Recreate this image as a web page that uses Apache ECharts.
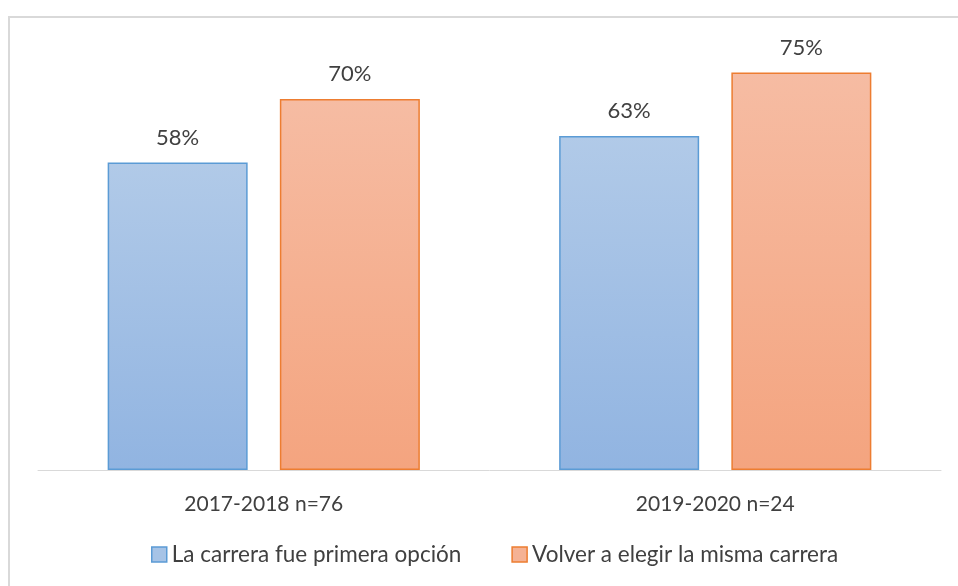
<!DOCTYPE html>
<html>
<head>
<meta charset="utf-8">
<script src="https://cdn.jsdelivr.net/npm/echarts@6/dist/echarts.min.js"></script>
<style>
  html, body { margin: 0; padding: 0; background: #fff; }
  #chart { width: 958px; height: 586px; }
</style>
</head>
<body>
<div id="chart"></div>
<script>
  var categories = ['2017-2018 n=76', '2019-2020 n=24'];
  var seriesNames = ['La carrera fue primera opción', 'Volver a elegir la misma carrera'];
  var primeraOpcion = [58, 63];
  var volverElegir = [70, 75];

  var font = 'Lato, "Open Sans", sans-serif';

  function grad(top, bottom) {
    return new echarts.graphic.LinearGradient(0, 0, 0, 1, [
      { offset: 0, color: top },
      { offset: 1, color: bottom }
    ]);
  }

  var chart = echarts.init(document.getElementById('chart'));
  var options = {
    animation: false,
    // marco gris del gráfico
    graphic: [{
      type: 'rect',
      shape: { x: 9, y: 17, width: 1000, height: 620 },
      style: { fill: 'none', stroke: '#d9d9d9', lineWidth: 2 },
      silent: true
    }],
    grid: {
      left: 38,
      right: 17,
      top: 46,
      bottom: 116
    },
    legend: {
      bottom: 15,
      left: 146,
      icon: 'rect',
      itemWidth: 15,
      itemHeight: 15,
      itemGap: 50,
      textStyle: { fontFamily: font, fontSize: 22.5, color: '#404040' },
      data: [
        { name: seriesNames[0], itemStyle: { color: '#a6c3e6', borderColor: '#5b9bd5', borderWidth: 1.5 } },
        { name: seriesNames[1], itemStyle: { color: '#f5b294', borderColor: '#ed7d31', borderWidth: 1.5 } }
      ]
    },
    xAxis: {
      type: 'category',
      data: categories,
      axisLine: { show: true, lineStyle: { color: '#d9d9d9', width: 1 } },
      axisTick: { show: false },
      axisLabel: { fontFamily: font, fontSize: 21, color: '#404040', margin: 24 }
    },
    yAxis: {
      type: 'value',
      min: 0,
      max: 80,
      show: false,
      splitLine: { show: false }
    },
    series: [
      {
        name: seriesNames[0],
        type: 'bar',
        barWidth: 140,
        barGap: '23%',
        data: primeraOpcion,
        itemStyle: {
          color: grad('#b1cae8', '#91b4e1'),
          borderColor: '#5b9bd5',
          borderWidth: 1.5
        },
        label: {
          show: true,
          position: 'top',
          distance: 14,
          formatter: '{c}%',
          fontFamily: font,
          fontSize: 22,
          color: '#404040'
        }
      },
      {
        name: seriesNames[1],
        type: 'bar',
        barWidth: 140,
        data: volverElegir,
        itemStyle: {
          color: grad('#f6bca3', '#f4a47f'),
          borderColor: '#ed7d31',
          borderWidth: 1.5
        },
        label: {
          show: true,
          position: 'top',
          distance: 14,
          formatter: '{c}%',
          fontFamily: font,
          fontSize: 22,
          color: '#404040'
        }
      }
    ]
  };
  chart.setOption(options);
</script>
</body>
</html>
